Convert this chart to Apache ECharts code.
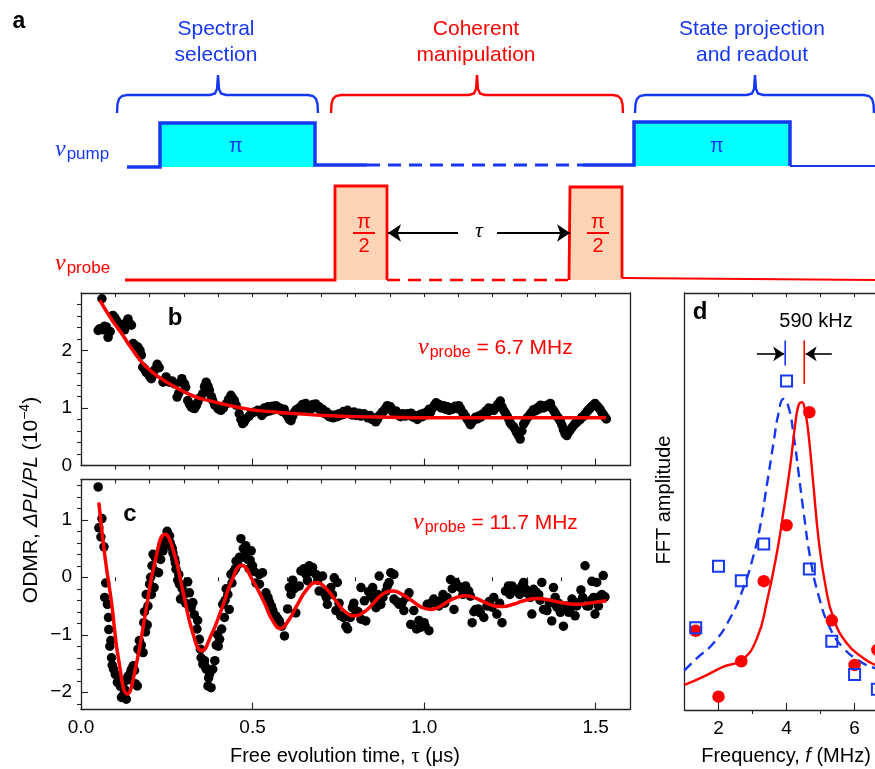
<!DOCTYPE html>
<html><head><meta charset="utf-8">
<script src="https://cdn.jsdelivr.net/npm/echarts@6/dist/echarts.min.js"></script>
<style>html,body{margin:0;padding:0;background:#fff}#main{width:875px;height:769px}</style>
</head><body><div id="main"></div>
<script>
// ---------------- DATA ----------------
// panel a: pulse-sequence schematic (schematic units)
const pumpSolidA = [[127,167],[160,167],[160,123],[315,123],[315,165],[367,165]];
const pumpDashed = [[367,165],[583,165]];
const pumpSolidB = [[583,165],[634,165],[634,122],[790,122],[790,166]];
const pumpTail = [[790,166],[875,166]];
const pumpPulses = [[160,123,315,167],[634,122,790,166]];
const probeSolidA = [[125,280],[335,280],[335,186],[387,186],[387,280]];
const probeDashed = [[387,280],[569,280]];
const probeSolidB = [[569,280],[570,280],[570,187],[622,187],[622,278]];
const probeTail = [[622,278],[875,280]];
const probePulses = [[335,186,387,280],[570,187,622,280]];
const braceSpans = [[117,218,318],[331,477,623],[635,755,874]];
const tauArrows = [[[458,233],[388,233]],[[497,233],[570,233]]];
const fracBars = [[[353,233],[375,233]],[[587,233],[609,233]]];

// panel b: ODMR vs tau (nu_probe = 6.7 MHz)
const bPoints = [[0.050,2.35],[0.055,2.38],[0.061,2.90],[0.064,2.36],[0.068,2.42],[0.074,2.41],[0.079,2.23],[0.085,2.33],[0.093,2.61],[0.098,2.57],[0.103,2.53],[0.110,2.47],[0.118,2.44],[0.122,2.38],[0.127,2.36],[0.133,2.50],[0.137,2.55],[0.142,2.47],[0.147,2.44],[0.152,2.12],[0.157,2.09],[0.166,2.06],[0.172,2.00],[0.176,1.92],[0.180,1.71],[0.185,1.68],[0.190,1.62],[0.195,1.60],[0.200,1.55],[0.205,1.51],[0.210,1.57],[0.214,1.66],[0.222,1.76],[0.228,1.70],[0.239,1.45],[0.245,1.47],[0.248,1.54],[0.258,1.45],[0.265,1.47],[0.273,1.42],[0.280,1.19],[0.285,1.26],[0.290,1.45],[0.294,1.51],[0.302,1.42],[0.305,1.36],[0.311,1.13],[0.316,1.07],[0.321,1.02],[0.326,1.00],[0.331,0.99],[0.336,1.04],[0.340,1.10],[0.347,1.18],[0.355,1.25],[0.360,1.37],[0.365,1.45],[0.370,1.38],[0.374,1.31],[0.380,1.20],[0.384,1.13],[0.390,1.05],[0.399,0.99],[0.404,0.97],[0.408,0.96],[0.415,1.00],[0.423,1.07],[0.430,1.15],[0.437,1.22],[0.442,1.17],[0.447,1.13],[0.452,1.05],[0.461,0.90],[0.466,0.80],[0.471,0.73],[0.476,0.76],[0.481,0.81],[0.490,0.86],[0.496,0.90],[0.505,0.93],[0.515,0.96],[0.527,0.87],
[0.534,1.0],[0.538,0.93],[0.545,1.02],[0.55,0.95],[0.558,1.03],[0.563,0.97],[0.568,1.04],[0.574,0.98],[0.58,1.0],[0.586,0.94],[0.592,0.98],[0.597,0.9],[0.602,0.86],[0.607,0.8],[0.612,0.78],[0.617,0.86],[0.622,0.93],[0.628,0.97],[0.635,1.0],[0.64,0.96],[0.645,1.06],[0.65,1.02],[0.655,1.08],[0.66,0.99],[0.665,1.04],[0.67,0.98],[0.676,1.06],[0.684,1.07],[0.688,1.0],[0.694,1.02],[0.699,0.95],[0.704,0.98],[0.71,0.9],[0.716,0.93],[0.723,0.85],[0.728,0.88],[0.735,0.83],[0.741,0.88],[0.747,0.85],[0.752,0.9],[0.76,0.88],[0.765,0.94],[0.771,0.9],[0.777,0.96],[0.785,0.91],[0.79,0.88],[0.796,0.93],[0.802,0.87],[0.81,0.91],[0.816,0.86],[0.825,0.9],[0.83,0.87],[0.836,0.83],[0.842,0.87],[0.848,0.8],[0.854,0.82],[0.859,0.76],[0.864,0.8],[0.868,0.86],[0.873,0.88],[0.878,0.93],[0.883,0.95],[0.888,1.0],[0.893,1.04],[0.897,0.99],[0.902,1.02],[0.907,0.95],[0.912,0.91],[0.918,0.95],[0.924,0.88],[0.931,0.85],[0.937,0.9],[0.945,0.86],[0.95,0.9],[0.956,0.87],[0.962,0.91],[0.968,0.84],[0.974,0.87],[0.98,0.8],[0.986,0.84],[0.99,0.89],[0.995,0.85],[1.0,0.91],[1.005,0.88],[1.01,0.94],[1.015,0.98],[1.019,0.93],[1.025,1.0],[1.03,1.05],[1.035,1.09],[1.038,1.04],[1.044,1.06],[1.05,1.0],[1.057,1.04],[1.062,0.98],[1.068,1.02],[1.073,0.96],[1.077,1.0],[1.083,0.98],[1.09,1.03],[1.096,0.99],[1.101,1.04],[1.106,0.99],[1.111,0.93],[1.116,0.9],[1.121,0.85],[1.126,0.8],[1.131,0.76],[1.135,0.71],[1.14,0.76],[1.145,0.8],[1.15,0.84],[1.155,0.81],[1.16,0.86],[1.165,0.84],[1.169,0.89],[1.175,0.9],[1.18,0.95],[1.184,0.92],[1.188,1.0],[1.193,0.96],[1.198,0.99],[1.203,0.96],[1.208,1.0],[1.213,1.05],[1.218,1.08],[1.222,1.12],[1.227,1.02],[1.232,0.96],[1.237,0.91],[1.242,0.86],[1.247,0.8],[1.251,0.74],[1.256,0.7],[1.261,0.67],[1.266,0.62],[1.27,0.57],[1.275,0.52],[1.28,0.46],[1.285,0.6],[1.29,0.72],[1.295,0.77],[1.3,0.83],[1.305,0.86],[1.31,0.9],[1.314,0.93],[1.319,0.97],[1.324,0.95],[1.329,1.0],[1.334,0.98],[1.339,1.05],[1.344,1.02],[1.348,1.0],[1.353,1.04],[1.358,1.03],[1.363,1.06],[1.368,1.08],[1.372,1.0],[1.377,0.96],[1.382,0.91],[1.387,0.86],[1.392,0.82],[1.397,0.77],[1.402,0.7],[1.406,0.62],[1.411,0.55],[1.416,0.52],[1.421,0.58],[1.426,0.62],[1.431,0.66],[1.436,0.7],[1.44,0.73],[1.445,0.75],[1.45,0.78],[1.455,0.8],[1.46,0.84],[1.465,0.86],[1.47,0.9],[1.475,0.94],[1.48,0.97],[1.484,1.0],[1.489,1.03],[1.494,1.05],[1.498,1.08],[1.503,1.04],[1.508,1.01],[1.513,0.97],[1.518,0.92],[1.523,0.88],[1.527,0.84],[1.531,0.81]];
const bFit = [[0.055,2.87],[0.088,2.55],[0.118,2.30],[0.147,2.04],[0.186,1.74],[0.234,1.51],[0.282,1.34],[0.331,1.20],[0.379,1.12],[0.428,1.05],[0.476,0.99],[0.525,0.95],[0.612,0.91],[0.708,0.87],[0.805,0.85],[0.903,0.84],[1.0,0.83],[1.2,0.83],[1.4,0.83],[1.53,0.83]];

// panel c: ODMR vs tau (nu_probe = 11.7 MHz)
const cPoints = [[0.050,1.57],[0.052,0.86],[0.058,0.7],[0.061,1.02],[0.067,0.53],[0.069,-0.35],[0.072,-0.1],[0.077,-0.47],[0.08,-0.7],[0.081,-0.91],[0.084,-1.2],[0.087,-1.1],[0.089,-1.40],[0.091,-1.53],[0.095,-1.6],[0.100,-1.69],[0.106,-1.83],[0.112,-1.78],[0.115,-1.9],[0.118,-2.09],[0.123,-2.05],[0.13,-1.8],[0.132,-2.12],[0.127,-1.95],[0.137,-1.72],[0.142,-1.78],[0.145,-1.65],[0.147,-1.60],[0.152,-1.54],[0.156,-1.62],[0.158,-1.85],[0.164,-1.89],[0.166,-1.25],[0.17,-1.1],[0.171,-1.28],[0.176,-1.18],[0.181,-1.31],[0.183,-0.79],[0.185,-0.6],[0.188,-0.95],[0.19,-0.3],[0.193,-0.83],[0.195,-0.50],[0.200,-0.12],[0.203,0.0],[0.205,-0.3],[0.207,0.2],[0.213,-0.18],[0.210,0.40],[0.216,0.35],[0.218,0.1],[0.222,0.38],[0.226,0.08],[0.232,0.31],[0.236,0.55],[0.239,0.46],[0.242,0.55],[0.244,0.66],[0.248,0.6],[0.251,0.80],[0.254,0.7],[0.255,0.65],[0.258,0.72],[0.26,0.6],[0.263,0.54],[0.266,0.5],[0.268,0.42],[0.273,0.32],[0.275,0.25],[0.277,0.14],[0.282,-0.05],[0.285,0.05],[0.287,-0.12],[0.290,-0.38],[0.295,-0.2],[0.30,-0.3],[0.305,-0.45],[0.311,-0.08],[0.316,-0.27],[0.321,-0.53],[0.326,-0.44],[0.33,-0.65],[0.338,-0.9],[0.34,-0.75],[0.345,-1.08],[0.348,-1.25],[0.350,-1.40],[0.355,-1.51],[0.36,-1.45],[0.362,-1.55],[0.365,-1.60],[0.370,-1.89],[0.372,-1.75],[0.375,-1.68],[0.379,-1.92],[0.384,-1.60],[0.39,-1.45],[0.394,-1.18],[0.398,-1.0],[0.40,-1.2],[0.404,-1.08],[0.410,-0.90],[0.413,-0.47],[0.418,-0.7],[0.42,-0.4],[0.423,-0.20],[0.428,-0.3],[0.432,-0.56],[0.437,0.05],[0.44,-0.1],[0.445,0.1],[0.45,0.15],[0.452,0.28],[0.457,0.22],[0.462,0.35],[0.466,0.67],[0.47,0.35],[0.473,0.50],[0.478,0.4],[0.48,0.55],[0.486,0.31],[0.49,0.15],[0.493,0.3],[0.496,0.46],[0.5,0.2],[0.505,0.1],[0.51,-0.1],[0.520,0.05],
[0.529,0.08],[0.520,-0.12],[0.539,-0.27],[0.545,-0.35],[0.549,-0.43],[0.555,-0.5],[0.559,-0.58],[0.568,-0.67],[0.573,-0.72],[0.578,-0.76],[0.585,-0.85],[0.593,-1.02],[0.602,-0.55],[0.607,-0.18],[0.612,-0.3],[0.617,-0.05],[0.622,-0.2],[0.626,-0.62],[0.636,-0.15],[0.641,0.11],[0.65,0.15],[0.656,0.05],[0.665,0.20],[0.67,0.1],[0.675,0.17],[0.660,-0.06],[0.685,0.05],[0.69,-0.05],[0.694,-0.24],[0.704,0.02],[0.709,-0.27],[0.715,-0.35],[0.718,-0.47],[0.728,-0.18],[0.733,-0.3],[0.738,-0.01],[0.747,-0.09],[0.743,-0.58],[0.752,-0.45],[0.757,-0.67],[0.765,-0.7],[0.772,-0.85],[0.777,-0.90],[0.785,-0.7],[0.791,-0.53],[0.795,-0.45],[0.801,-0.58],[0.808,-0.6],[0.816,-0.18],[0.816,-0.73],[0.830,-0.76],[0.826,-0.41],[0.838,-0.25],[0.845,-0.33],[0.850,-0.18],[0.855,-0.4],[0.860,-0.53],[0.865,-0.3],[0.869,0.02],[0.874,-0.47],[0.88,-0.35],[0.889,-0.24],[0.893,-0.15],[0.898,-0.09],[0.903,0.08],[0.912,0.05],[0.912,-0.38],[0.92,-0.42],[0.927,-0.47],[0.936,-0.44],[0.941,-0.58],[0.948,-0.35],[0.956,-0.27],[0.961,-0.82],[0.970,-0.58],[0.978,-0.90],[0.985,-0.75],[0.990,-0.87],[1.000,-0.79],[1.003,-0.85],[1.014,-0.93],[1.009,-0.47],[1.02,-0.45],[1.028,-0.38],[1.035,-0.45],[1.043,-0.50],
[1.048,-0.41],[1.055,-0.3],[1.06,-0.45],[1.067,-0.35],[1.077,-0.04],[1.082,-0.2],[1.087,-0.56],[1.092,-0.09],[1.098,-0.15],[1.106,-0.18],[1.113,-0.3],[1.121,-0.15],[1.130,-0.24],[1.135,-0.33],[1.140,-0.79],[1.145,-0.6],[1.150,-0.56],[1.158,-0.55],[1.164,-0.62],[1.174,-0.70],[1.183,-0.50],[1.19,-0.42],[1.198,-0.52],[1.203,-0.35],[1.212,-0.64],[1.22,-0.45],[1.227,-0.79],[1.237,-0.24],[1.246,-0.15],[1.25,-0.3],[1.256,-0.15],[1.263,-0.2],[1.270,-0.24],[1.278,-0.3],[1.285,-0.15],[1.290,-0.09],[1.295,-0.2],[1.300,-0.27],[1.31,-0.35],[1.314,-0.64],[1.319,-0.21],[1.325,-0.25],[1.334,-0.30],[1.338,-0.4],[1.343,-0.09],[1.348,-0.56],[1.358,-0.58],[1.365,-0.45],[1.372,-0.76],[1.377,-0.18],[1.382,-0.35],[1.387,-0.52],[1.392,-0.45],[1.397,-0.61],[1.406,-0.85],[1.415,-0.5],[1.421,-0.61],[1.426,-0.55],[1.431,-0.38],[1.440,-0.67],[1.445,-0.5],[1.450,-0.44],[1.457,-0.22],[1.462,-0.35],[1.469,0.20],[1.474,-0.50],[1.48,-0.5],[1.484,-0.41],[1.489,-0.07],[1.494,-0.35],[1.498,-0.64],[1.503,-0.09],[1.508,-0.5],[1.513,-0.33],[1.518,-0.3],[1.522,0.03],[1.527,-0.34]];
const cFit = [[0.052,1.30],[0.07,0.35],[0.089,-0.44],[0.11,-1.45],[0.135,-2.03],[0.16,-1.55],[0.19,-0.55],[0.215,0.25],[0.245,0.75],[0.27,0.45],[0.298,-0.27],[0.325,-0.95],[0.352,-1.28],[0.38,-1.0],[0.41,-0.55],[0.44,-0.05],[0.468,0.21],[0.50,-0.05],[0.534,-0.44],[0.558,-0.75],[0.581,-0.89],[0.605,-0.75],[0.631,-0.47],[0.66,-0.2],[0.687,-0.09],[0.715,-0.2],[0.743,-0.41],[0.77,-0.6],[0.798,-0.67],[0.826,-0.6],[0.854,-0.44],[0.88,-0.29],[0.91,-0.24],[0.937,-0.3],[0.965,-0.41],[0.992,-0.52],[1.019,-0.56],[1.046,-0.51],[1.07,-0.42],[1.095,-0.35],[1.121,-0.32],[1.148,-0.36],[1.175,-0.43],[1.2,-0.49],[1.23,-0.51],[1.26,-0.47],[1.29,-0.41],[1.33,-0.37],[1.36,-0.39],[1.39,-0.43],[1.42,-0.46],[1.45,-0.47],[1.48,-0.45],[1.505,-0.43],[1.532,-0.41]];

// panel d: FFT amplitude (arb.)
const dFreq = [1.33, 2.0, 2.67, 3.33, 4.0, 4.67, 5.33, 6.0, 6.67];
const dSquares = [0.197, 0.345, 0.31, 0.398, 0.789, 0.338, 0.165, 0.085, 0.05];
const dCircles = [0.19, 0.032, 0.117, 0.309, 0.443, 0.714, 0.215, 0.108, 0.144];
const dDashed = [[1.0,0.095],[1.36,0.124],[1.85,0.16],[2.34,0.22],[2.74,0.295],[3.03,0.371],[3.23,0.443],[3.42,0.539],[3.62,0.642],[3.76,0.71],[3.91,0.746],[4.06,0.726],[4.21,0.658],[4.35,0.571],[4.50,0.475],[4.70,0.363],[4.94,0.275],[5.28,0.196],[5.68,0.148],[6.17,0.116],[6.61,0.10],[7.2,0.088]];
const dSolid = [[1.0,0.06],[1.56,0.08],[2.15,0.104],[2.69,0.12],[3.13,0.172],[3.42,0.259],[3.72,0.379],[3.91,0.475],[4.11,0.587],[4.25,0.682],[4.35,0.73],[4.45,0.738],[4.55,0.714],[4.65,0.658],[4.79,0.539],[4.94,0.411],[5.14,0.30],[5.38,0.22],[5.77,0.16],[6.26,0.124],[6.61,0.108],[7.2,0.095]];
const dBlueMark = [[3.96,0.826],[3.96,0.886]];
const dRedMark = [[4.52,0.782],[4.52,0.886]];
const dArrows = [[[3.13,0.854],[3.93,0.854]],[[5.33,0.854],[4.56,0.854]]];

// ticks
const timeMajor = [0, 0.5, 1.0, 1.5];
const timeMinor = [0.1,0.2,0.3,0.4,0.6,0.7,0.8,0.9,1.1,1.2,1.3,1.4];
const bYMajor = [0, 1, 2];
const bYMinor = [0.2,0.4,0.6,0.8,1.2,1.4,1.6,1.8,2.2,2.4,2.6,2.8];
const cYMajor = [-2, -1, 0, 1];
const cYMinor = [-2.2,-1.8,-1.6,-1.4,-1.2,-0.8,-0.6,-0.4,-0.2,0.2,0.4,0.6,0.8,1.2,1.4,1.6];
const fMajor = [2, 4, 6];
const fMinor = [3, 5];

// ---------------- STYLE ----------------
const FONT = "'Liberation Sans', Arial, Helvetica, sans-serif";
const SERIF = "'Liberation Serif', 'DejaVu Serif', serif";
const BLUE = '#1638f2';
const RED = '#ff0000';
const CYAN = '#00ffff';
const PEACH = '#fad4b4';
const AXC = '#222';

const xAxes = [], yAxes = [];
function addX(o){ xAxes.push(Object.assign({type:'value', splitLine:{show:false}}, o)); return xAxes.length-1; }
function addY(o){ yAxes.push(Object.assign({type:'value', splitLine:{show:false}}, o)); return yAxes.length-1; }
const AL = {show:true, onZero:false, lineStyle:{color:AXC, width:1.3}};
function tk(vals, len){ return {show:true, inside:true, length:len, customValues:vals, lineStyle:{color:AXC, width:1.1}}; }
function lbl(vals, fmt){ return {show:true, customValues:vals, formatter:fmt, fontSize:19, fontFamily:FONT, color:'#000', margin:9}; }
const minusFmt = v => (v < 0 ? '\u2212' + Math.abs(v) : String(v));

function frame(g, xs, ys){
  const o = {};
  o.x = addX({gridIndex:g, min:xs.min, max:xs.max, position:'bottom', axisLine:AL, axisTick:tk(xs.major,7), axisLabel: xs.labels ? lbl(xs.labels, xs.fmt) : {show:false}});
  addX({gridIndex:g, min:xs.min, max:xs.max, position:'top', axisLine:AL, axisTick:tk(xs.major.concat(xs.minor),4), axisLabel:{show:false}});
  addX({gridIndex:g, min:xs.min, max:xs.max, position:'top', axisLine:{show:false}, axisTick:tk(xs.minor,4), axisLabel:{show:false}});
  o.y = addY({gridIndex:g, min:ys.min, max:ys.max, position:'left', axisLine:AL, axisTick: ys.major ? tk(ys.major,7) : {show:false}, axisLabel: ys.labels ? lbl(ys.labels, minusFmt) : {show:false}});
  if (ys.minor) {
    addY({gridIndex:g, min:ys.min, max:ys.max, position:'right', axisLine:AL, axisTick:{show:false}, axisLabel:{show:false}});
    addY({gridIndex:g, min:ys.min, max:ys.max, position:'right', axisLine:{show:false}, axisTick:tk(ys.minor,4), axisLabel:{show:false}});
  }
  return o;
}

// grid 0: schematic
addX({gridIndex:0, min:0, max:875, show:false});
addY({gridIndex:0, min:0, max:290, inverse:true, show:false});
const B = frame(1, {min:0, max:1.6, major:timeMajor, minor:timeMinor}, {min:0, max:3, major:bYMajor, minor:bYMinor, labels:bYMajor});
const C = frame(2, {min:0, max:1.6, major:timeMajor, minor:timeMinor, labels:timeMajor, fmt:v=>v.toFixed(1)}, {min:-2.3, max:1.7, major:cYMajor, minor:cYMinor, labels:cYMajor});
const D = frame(3, {min:1, max:6.6, major:fMajor, minor:fMinor, labels:fMajor, fmt:v=>String(v)}, {min:0, max:1});

const series = [];
function dline(data, color, width, dashed, z){
  series.push({type:'line', xAxisIndex:0, yAxisIndex:0, data, showSymbol:false, symbol:'none', silent:true, z:z||3,
    lineStyle:{color, width, type: dashed ? [13,8] : 'solid', cap:'butt', join:'miter'}});
}
function rects(data, color){
  series.push({type:'custom', xAxisIndex:0, yAxisIndex:0, data, z:1, silent:true, encode:{x:[0,2], y:[1,3]},
    renderItem(params, api){
      const p0 = api.coord([api.value(0), api.value(1)]);
      const p1 = api.coord([api.value(2), api.value(3)]);
      return {type:'rect', shape:{x:Math.min(p0[0],p1[0]), y:Math.min(p0[1],p1[1]), width:Math.abs(p1[0]-p0[0]), height:Math.abs(p1[1]-p0[1])}, style:{fill:color}};
    }});
}
function bracePts(s){
  const [x0, t, x1] = s;
  return [[x0,113],[x0+0.5,104],[x0+2,99],[x0+5,96],[x0+10,95],[t-8,95],[t-3,93.5],[t-1,89],[t,75],[t+1,89],[t+3,93.5],[t+8,95],[x1-10,95],[x1-5,96],[x1-2,99],[x1-0.5,104],[x1,113]];
}
rects(pumpPulses, CYAN);
rects(probePulses, PEACH);
dline(pumpSolidA, BLUE, 3.5); dline(pumpDashed, BLUE, 3, true); dline(pumpSolidB, BLUE, 3.5); dline(pumpTail, BLUE, 2.2);
dline(probeSolidA, RED, 2.8); dline(probeDashed, RED, 2.5, true); dline(probeSolidB, RED, 2.8); dline(probeTail, RED, 2.2);
braceSpans.forEach((s, i) => dline(bracePts(s), i === 1 ? RED : BLUE, 2.4));
fracBars.forEach(fb => dline(fb, RED, 2));
series.push({type:'line', xAxisIndex:0, yAxisIndex:0, data:[], silent:true,
  markLine:{silent:true, symbol:['none','arrow'], symbolSize:13, label:{show:false}, lineStyle:{color:'#000', width:2, type:'solid'},
    data: tauArrows.map(a => [{coord:a[0]},{coord:a[1]}])}});

// panel b
series.push({type:'scatter', xAxisIndex:B.x, yAxisIndex:B.y, data:bPoints, symbolSize:9.5, itemStyle:{color:'#000', opacity:1}, z:2, silent:true});
series.push({type:'line', xAxisIndex:B.x, yAxisIndex:B.y, data:bFit, smooth:true, showSymbol:false, symbol:'none', lineStyle:{color:RED, width:3.5}, z:3, silent:true});
// panel c
series.push({type:'scatter', xAxisIndex:C.x, yAxisIndex:C.y, data:cPoints, symbolSize:9.5, itemStyle:{color:'#000', opacity:1}, z:2, silent:true});
series.push({type:'line', xAxisIndex:C.x, yAxisIndex:C.y, data:cFit, smooth:true, showSymbol:false, symbol:'none', lineStyle:{color:RED, width:3.5}, z:3, silent:true});
// panel d
series.push({type:'line', xAxisIndex:D.x, yAxisIndex:D.y, data:dDashed, smooth:true, showSymbol:false, symbol:'none', lineStyle:{color:BLUE, width:2.4, type:[10,6]}, z:2, silent:true});
series.push({type:'line', xAxisIndex:D.x, yAxisIndex:D.y, data:dSolid, smooth:true, showSymbol:false, symbol:'none', lineStyle:{color:RED, width:2.4}, z:2, silent:true});
series.push({type:'scatter', xAxisIndex:D.x, yAxisIndex:D.y, data:dFreq.map((f,i)=>[f,dCircles[i]]), clip:false, symbol:'circle', symbolSize:12.5, itemStyle:{color:RED, opacity:1}, z:3, silent:true});
series.push({type:'scatter', xAxisIndex:D.x, yAxisIndex:D.y, data:dFreq.map((f,i)=>[f,dSquares[i]]), clip:false, symbol:'rect', symbolSize:11, itemStyle:{color:'rgba(0,0,0,0)', borderColor:BLUE, borderWidth:2, opacity:1}, z:4, silent:true});
series.push({type:'line', xAxisIndex:D.x, yAxisIndex:D.y, data:dBlueMark, showSymbol:false, symbol:'none', lineStyle:{color:BLUE, width:1.6}, z:4, silent:true});
series.push({type:'line', xAxisIndex:D.x, yAxisIndex:D.y, data:dRedMark, showSymbol:false, symbol:'none', lineStyle:{color:RED, width:1.6}, z:4, silent:true,
  markLine:{silent:true, symbol:['none','arrow'], symbolSize:11, label:{show:false}, lineStyle:{color:'#000', width:1.6, type:'solid'},
    data: dArrows.map(a => [{coord:a[0]},{coord:a[1]}])}});

// ---------------- TEXT ----------------
function txt(x, y, text, opts){
  return Object.assign({type:'text', x, y, z:50, silent:true, style:Object.assign({text, fill:'#000', font:`20px ${FONT}`, align:'center', verticalAlign:'middle'}, opts||{})});
}
function nuLabel(x, y, sub, rest, color, sz){
  return txt(x, y, '{nu|\u03bd}{sub|' + sub + '}' + (rest ? '{m|' + rest + '}' : ''), {align:'left', rich:{
    nu:{fontFamily:SERIF, fontStyle:'italic', fontSize:24, fill:color},
    sub:{fontFamily:FONT, fontSize:sz, fill:color, padding:[9,0,0,1]},
    m:{fontFamily:FONT, fontSize:21, fill:color}}});
}
const graphics = [
  txt(19, 22, 'a', {font:`bold 23px ${FONT}`}),
  txt(216, 42, 'Spectral\nselection', {fill:BLUE, font:`21px ${FONT}`, lineHeight:26}),
  txt(476, 42, 'Coherent\nmanipulation', {fill:RED, font:`21px ${FONT}`, lineHeight:26}),
  txt(752, 42, 'State projection\nand readout', {fill:BLUE, font:`21px ${FONT}`, lineHeight:26}),
  nuLabel(55, 150, 'pump', '', BLUE, 17),
  nuLabel(55, 264, 'probe', '', RED, 17),
  txt(236, 146, '\u03c0', {fill:BLUE, font:`20px ${FONT}`}),
  txt(717, 146, '\u03c0', {fill:BLUE, font:`20px ${FONT}`}),
  txt(364, 222, '\u03c0', {fill:RED, font:`20px ${FONT}`}),
  txt(364, 246, '2', {fill:RED, font:`20px ${FONT}`}),
  txt(598, 222, '\u03c0', {fill:RED, font:`20px ${FONT}`}),
  txt(598, 246, '2', {fill:RED, font:`20px ${FONT}`}),
  txt(479, 231, '\u03c4', {font:`italic 22px ${SERIF}`}),
  txt(175, 318, 'b', {font:`bold 24px ${FONT}`}),
  txt(130, 514, 'c', {font:`bold 24px ${FONT}`}),
  txt(700, 312, 'd', {font:`bold 24px ${FONT}`}),
  nuLabel(418, 348, 'probe', ' = 6.7 MHz', RED, 16),
  nuLabel(413, 523, 'probe', ' = 11.7 MHz', RED, 16),
  txt(816, 321, '590 kHz', {font:`20px ${FONT}`}),
  Object.assign(txt(31, 500, '{n|ODMR, }{i|\u0394PL/PL}{n| (10}{s|\u22124}{n|)}', {rich:{
    n:{fontFamily:FONT, fontSize:21, fill:'#000'},
    i:{fontFamily:FONT, fontSize:21, fontStyle:'italic', fill:'#000'},
    s:{fontFamily:FONT, fontSize:14, fill:'#000', padding:[0,0,12,0]}}}), {rotation:Math.PI/2}),
  Object.assign(txt(664, 500, 'FFT amplitude', {font:`20px ${FONT}`}), {rotation:Math.PI/2}),
  txt(345, 756, '{n|Free evolution time, }{g|\u03c4}{n| (\u03bcs)}', {rich:{
    n:{fontFamily:FONT, fontSize:20, fill:'#000'}, g:{fontFamily:SERIF, fontSize:21, fill:'#000'}}}),
  txt(786, 756, '{n|Frequency, }{i|f}{n| (MHz)}', {rich:{
    n:{fontFamily:FONT, fontSize:20, fill:'#000'}, i:{fontFamily:FONT, fontStyle:'italic', fontSize:20, fill:'#000'}}})
];

const chart = echarts.init(document.getElementById('main'), null, {renderer:'canvas'});
chart.setOption({
  animation:false,
  backgroundColor:'#fff',
  grid:[
    {left:0, top:0, width:875, height:290},
    {left:81, top:293, width:549, height:172.5},
    {left:81, top:479.5, width:549, height:230},
    {left:684.5, top:293, right:0, height:417}
  ],
  xAxis:xAxes, yAxis:yAxes, series, graphic:graphics
});
</script></body></html>
